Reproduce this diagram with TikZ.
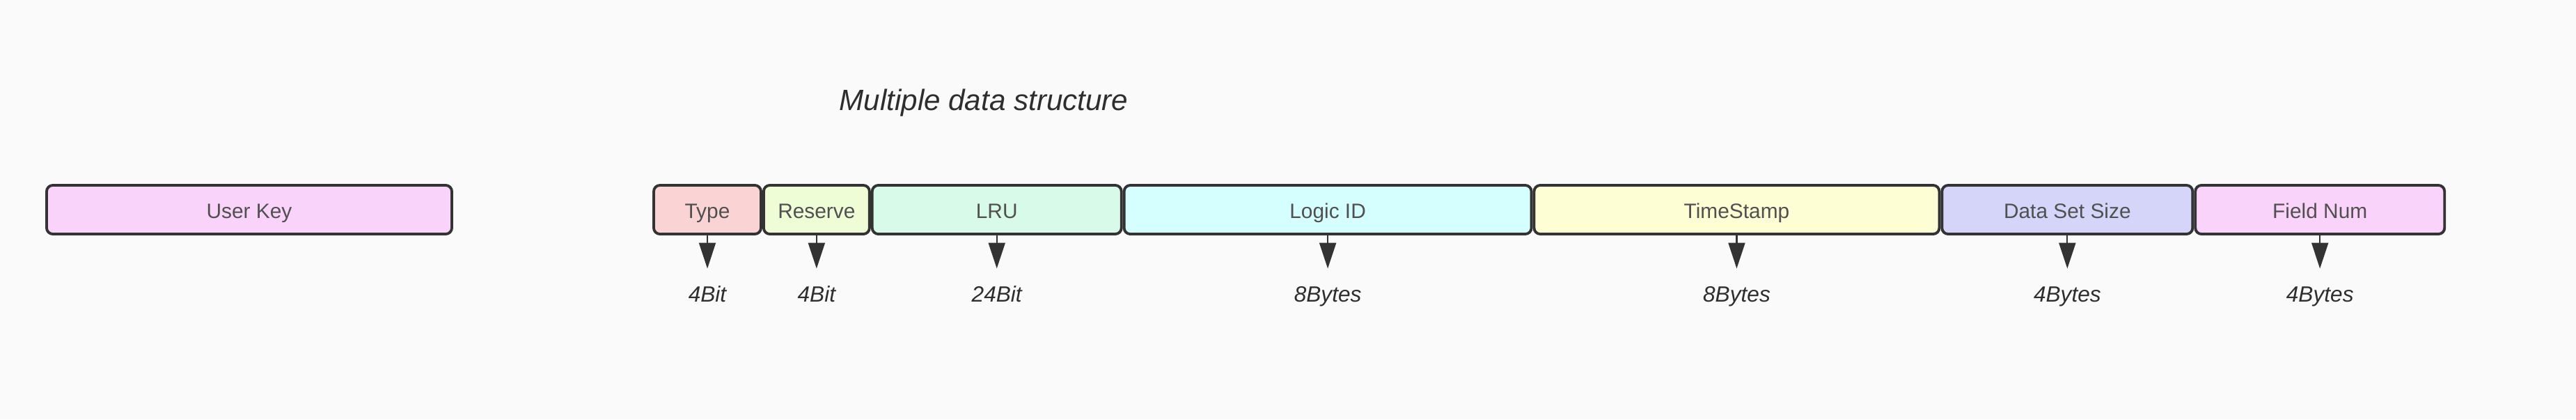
\documentclass[tikz,border=0pt]{standalone}
\usepackage{fontspec}
\setmainfont{Liberation Sans}
\usepackage{tikz}
\usetikzlibrary{arrows.meta, positioning}

\definecolor{bgcolor}{HTML}{FAFAFA}
\definecolor{bordercolor}{HTML}{333333}
\definecolor{fieldtext}{HTML}{505050}
\definecolor{labelcolor}{HTML}{2E2E2E}
\definecolor{keypink}{HTML}{FAD3FA}
\definecolor{typered}{HTML}{FAD4D4}
\definecolor{reservegreen}{HTML}{EEFDD6}
\definecolor{lrugreen}{HTML}{D8FBE9}
\definecolor{logiccyan}{HTML}{D5FEFE}
\definecolor{stampyellow}{HTML}{FEFED5}
\definecolor{sizeblue}{HTML}{D5D5FA}

\begin{document}
\begin{tikzpicture}[node distance=0pt,
    field/.style={draw=bordercolor, line width=1.1pt, rounded corners=2.5pt, rectangle, text centered, minimum height=0.7cm, inner sep=0pt, text height=1.38ex, text depth=0pt, text=fieldtext, font=\fontsize{8.5}{10}\selectfont},
    bits/.style={text=labelcolor, inner sep=2pt, text height=1.5ex, text depth=0.4ex, font=\fontsize{9}{11}\selectfont\itshape},
    sizearrow/.style={draw=bordercolor, line width=0.6pt, -{Triangle[length=0.37cm, width=0.24cm]}, shorten >=0.12cm}]
    \fill[bgcolor] (0,0) rectangle (37,6.02);

    \node (title) [text=labelcolor, font=\fontsize{12}{14}\selectfont\itshape] at (14.13,4.54) {Multiple data structure};

    \node (userkey) [field, fill=keypink, minimum width=5.82cm] at (3.58,3.01) {User Key};

    \node (type) [field, fill=typered, minimum width=1.54cm] at (10.16,3.01) {Type};
    \node (reserve) [field, fill=reservegreen, minimum width=1.52cm, right=of type] {Reserve};
    \node (lru) [field, fill=lrugreen, minimum width=3.58cm, right=of reserve] {LRU};
    \node (logicid) [field, fill=logiccyan, minimum width=5.85cm, right=of lru] {Logic ID};
    \node (timestamp) [field, fill=stampyellow, minimum width=5.82cm, right=of logicid] {TimeStamp};
    \node (setsize) [field, fill=sizeblue, minimum width=3.6cm, right=of timestamp] {Data Set Size};
    \node (fieldnum) [field, fill=keypink, minimum width=3.58cm, right=of setsize] {Field Num};

    \node (typebits) [bits, below=0.85cm of type.south, anchor=center] {4Bit};
    \node (reservebits) [bits, below=0.85cm of reserve.south, anchor=center] {4Bit};
    \node (lrubits) [bits, below=0.85cm of lru.south, anchor=center] {24Bit};
    \node (logicbytes) [bits, below=0.85cm of logicid.south, anchor=center] {8Bytes};
    \node (stampbytes) [bits, below=0.85cm of timestamp.south, anchor=center] {8Bytes};
    \node (setsizebytes) [bits, below=0.85cm of setsize.south, anchor=center] {4Bytes};
    \node (fieldnumbytes) [bits, below=0.85cm of fieldnum.south, anchor=center] {4Bytes};

    \draw[sizearrow] (type) -- (typebits);
    \draw[sizearrow] (reserve) -- (reservebits);
    \draw[sizearrow] (lru) -- (lrubits);
    \draw[sizearrow] (logicid) -- (logicbytes);
    \draw[sizearrow] (timestamp) -- (stampbytes);
    \draw[sizearrow] (setsize) -- (setsizebytes);
    \draw[sizearrow] (fieldnum) -- (fieldnumbytes);
\end{tikzpicture}
\end{document}
